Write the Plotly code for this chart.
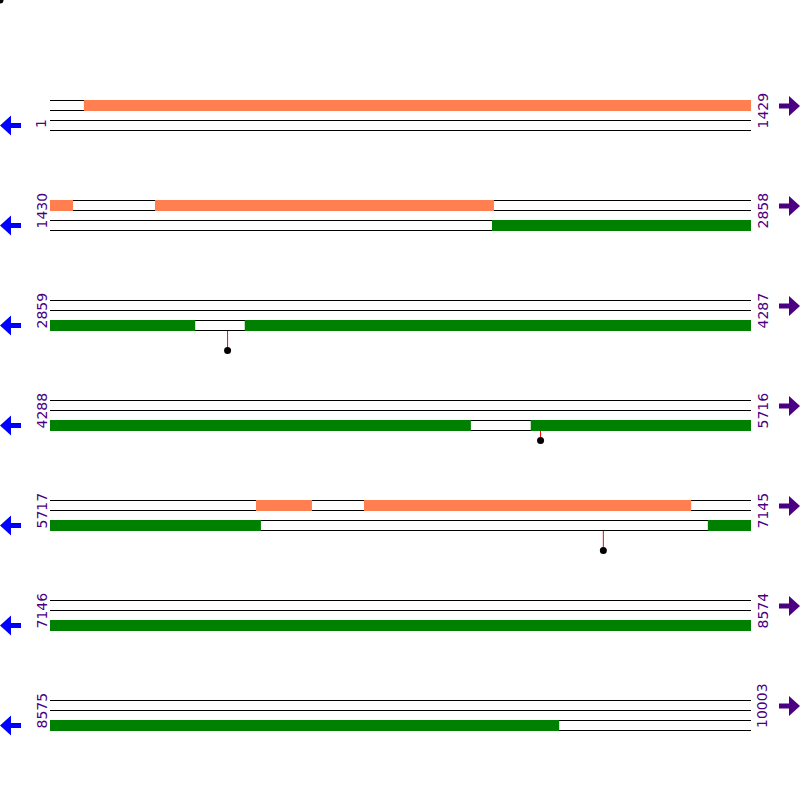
import plotly.graph_objects as go

# ---------------- data ----------------
SEQ_LEN = 10003
ROW_LEN = 1429
row_starts = [1, 1430, 2859, 4288, 5717, 7146, 8575]
row_ends = [1429, 2858, 4287, 5716, 7145, 8574, 10003]

# forward-strand features (orange)
fwd_starts = [70, 1644, 6137, 6357]
fwd_ends = [1476, 2334, 6250, 7023]
# reverse-strand features (green)
rev_starts = [2331, 3256, 5268, 7058]
rev_ends = [3154, 5145, 6146, 9612]

# sites (lollipop markers under reverse strand)
site_pos = [3221, 5288, 6845]
site_len = [20, 10, 20]

# ---------------- style / layout ----------------
W = H = 800
LEFT_PX, RIGHT_PX = 50, 751
BP_PX = (RIGHT_PX - LEFT_PX) / ROW_LEN
FIRST_ROW_Y, ROW_PITCH = 100, 100
FWD_COLOR = "#ff7f50"
REV_COLOR = "#008000"
LABEL_COLOR = "#4b0082"
LEFT_ARROW_COLOR = "#0000ff"
RIGHT_ARROW_COLOR = "#4b0082"
STEM_COLOR = "#ff0000"

fig = go.Figure()
shapes = []
annotations = []


def row_y(i):
    return FIRST_ROW_Y + ROW_PITCH * i


def add_feature(s, e, color, top):
    for i, (rs, re_) in enumerate(zip(row_starts, row_ends)):
        a, b = max(s, rs), min(e, re_)
        if a > b:
            continue
        y0 = row_y(i) + (0 if top else 20)
        shapes.append(dict(type="rect", xref="x", yref="y",
                           x0=a - rs, x1=b - rs + 1, y0=y0, y1=y0 + 11,
                           fillcolor=color, line=dict(width=0), layer="above"))


# lane lines
for i, (rs, re_) in enumerate(zip(row_starts, row_ends)):
    y = row_y(i)
    for dy in (0, 10, 20, 30):
        shapes.append(dict(type="line", xref="x", yref="y",
                           x0=0, x1=ROW_LEN,
                           y0=y + dy + 0.5, y1=y + dy + 0.5,
                           line=dict(color="black", width=1), layer="above"))

for s, e in zip(fwd_starts, fwd_ends):
    add_feature(s, e, FWD_COLOR, True)
for s, e in zip(rev_starts, rev_ends):
    add_feature(s, e, REV_COLOR, False)

# labels and arrows
for i, (rs, re_) in enumerate(zip(row_starts, row_ends)):
    y = row_y(i)
    annotations.append(dict(xref="paper", yref="y", x=41 / W, y=y + 30.5,
                            text=str(rs), textangle=-90, showarrow=False,
                            xanchor="center", yanchor="bottom",
                            font=dict(family="DejaVu Sans", size=14, color=LABEL_COLOR)))
    annotations.append(dict(xref="paper", yref="y", x=762 / W, y=y + 30.5,
                            text=str(re_), textangle=-90, showarrow=False,
                            xanchor="center", yanchor="bottom",
                            font=dict(family="DejaVu Sans", size=14, color=LABEL_COLOR)))
    c = y + 25.5
    pts = [(0, c), (11, c - 10), (11, c - 2.5), (21, c - 2.5), (21, c + 2.5), (11, c + 2.5), (11, c + 10)]
    path = "M " + " L ".join(f"{px / W:.5f},{py}" for px, py in pts) + " Z"
    shapes.append(dict(type="path", xref="paper", yref="y", path=path,
                       fillcolor=LEFT_ARROW_COLOR, line=dict(width=0)))
    c = y + 6
    pts = [(800, c), (789, c - 10), (789, c - 2.5), (779, c - 2.5), (779, c + 2.5), (789, c + 2.5), (789, c + 10)]
    path = "M " + " L ".join(f"{px / W:.5f},{py}" for px, py in pts) + " Z"
    shapes.append(dict(type="path", xref="paper", yref="y", path=path,
                       fillcolor=RIGHT_ARROW_COLOR, line=dict(width=0)))

# sites
for p, h in zip(site_pos, site_len):
    i = next(k for k, (rs, re_) in enumerate(zip(row_starts, row_ends)) if rs <= p <= re_)
    x = p - row_starts[i]
    y0 = row_y(i) + 31
    fig.add_trace(go.Scatter(x=[x, x], y=[y0, y0 + h - 0.5], mode="lines",
                             line=dict(color=STEM_COLOR, width=1), hoverinfo="skip"))
    fig.add_trace(go.Scatter(x=[x], y=[y0 + h - 0.5], mode="markers",
                             marker=dict(color="black", size=7), hoverinfo="skip"))

# stray unplaced marker at the origin corner
fig.add_trace(go.Scatter(x=[-LEFT_PX / BP_PX], y=[0], mode="markers",
                         marker=dict(color="black", size=7), hoverinfo="skip"))

fig.update_layout(
    width=W, height=H, margin=dict(l=0, r=0, t=0, b=0),
    paper_bgcolor="white", plot_bgcolor="white", showlegend=False,
    shapes=shapes, annotations=annotations,
    xaxis=dict(range=[-LEFT_PX / BP_PX, (W - LEFT_PX) / BP_PX], visible=False, fixedrange=True),
    yaxis=dict(range=[H, 0], visible=False, fixedrange=True),
)

fig.write_html("out.html", config={"displayModeBar": False},
               post_script="document.body.style.margin='0';document.body.style.overflow='hidden';")
